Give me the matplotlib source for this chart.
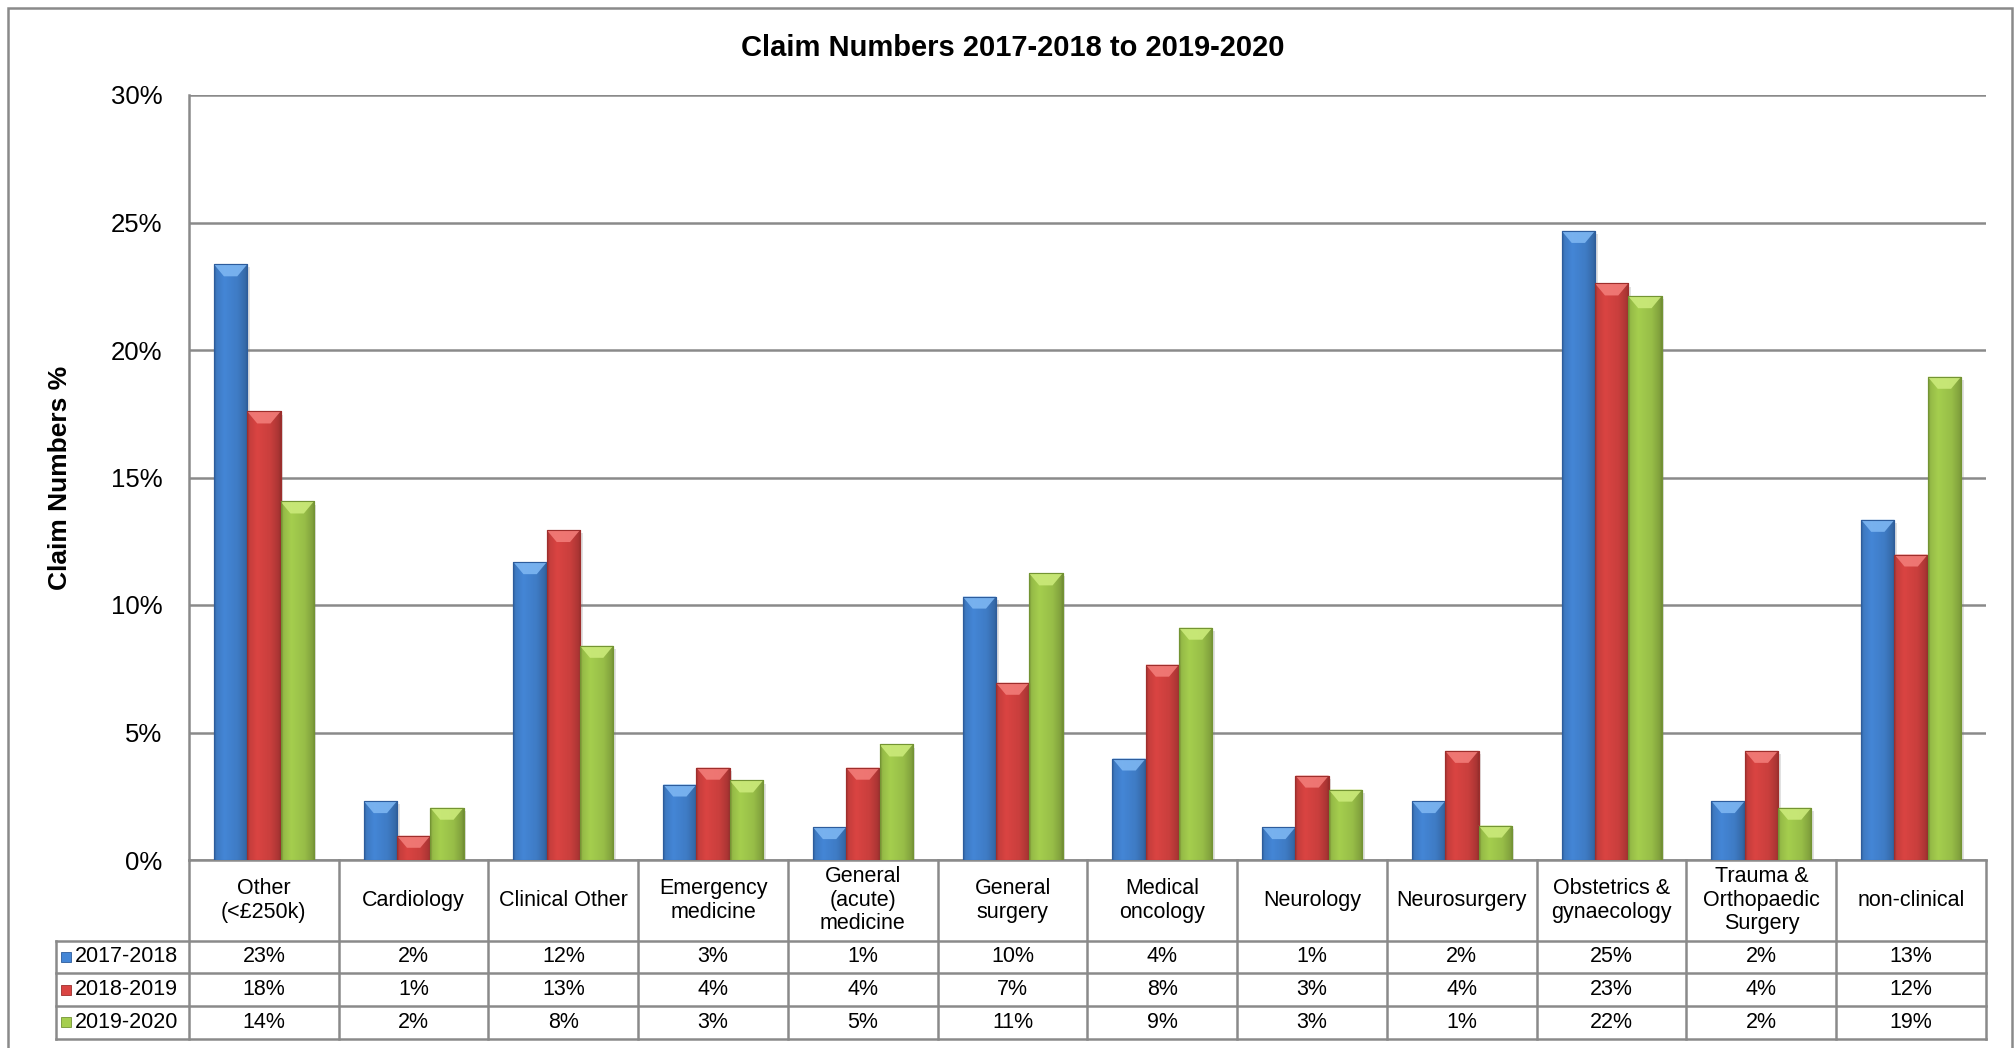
import matplotlib.pyplot as plt
import matplotlib.transforms as mtransforms
from matplotlib.colors import to_rgb
from matplotlib.patches import Polygon, Rectangle
import numpy as np

plt.rcParams['font.family'] = ['Liberation Sans', 'DejaVu Sans']

categories = ["Other\n(<£250k)", "Cardiology", "Clinical Other", "Emergency\nmedicine",
              "General\n(acute)\nmedicine", "General\nsurgery", "Medical\noncology", "Neurology",
              "Neurosurgery", "Obstetrics &\ngynaecology", "Trauma &\nOrthopaedic\nSurgery",
              "non-clinical"]
years = ["2017-2018", "2018-2019", "2019-2020"]
share_1718 = [23.36, 2.31, 11.68, 2.96, 1.29, 10.33, 3.98, 1.29, 2.31, 24.67, 2.31, 13.34]
share_1819 = [17.59, 0.95, 12.94, 3.62, 3.62, 6.95, 7.66, 3.31, 4.28, 22.61, 4.28, 11.98]
share_1920 = [14.06, 2.05, 8.40, 3.12, 4.53, 11.24, 9.11, 2.76, 1.35, 22.11, 2.05, 18.95]
series = [share_1718, share_1819, share_1920]

face = ['#4486D6', '#DA4442', '#A5CE4E']
edge = ['#2D5C9C', '#9E2E2C', '#739433']
bevel = ['#7DB6F2', '#F27C78', '#CBEA7A']

W, H = 2015, 1048
fig = plt.figure(figsize=(W / 100, H / 100), dpi=100)

# plot area in pixels
left, right, top, bottom = 189, 1986, 95, 860
ax = fig.add_axes([left / W, 1 - bottom / H, (right - left) / W, (bottom - top) / H])

n = len(categories)
x = np.arange(n)
w = 1 / 4.5  # gap width 150%
px_per_unit = (bottom - top) / 30.0


def shade(color, k=60):
    rgb = np.array(to_rgb(color))
    t = np.linspace(0, 1, k)
    prof = np.interp(t, [0, 0.06, 0.3, 0.7, 0.94, 1], [0.70, 0.90, 1.0, 0.92, 0.78, 0.68])
    return np.clip(rgb[None, :] * prof[:, None], 0, 1)[None, :, :]


for s, vals in enumerate(series):
    xs = x + (s - 1) * w
    bars = ax.bar(xs, vals, width=w, color=face[s], edgecolor=edge[s], lw=0.8, zorder=3)
    for b, v in zip(bars, vals):
        x0 = b.get_x()
        x1 = x0 + b.get_width()
        # soft shadow
        ax.add_patch(Rectangle((x0 + 0.018, 0), w, v - 0.12, color='#7a7a7a',
                               alpha=0.22, lw=0, zorder=2.5))
        im = ax.imshow(shade(face[s]), extent=[x0, x1, 0, v], aspect='auto',
                       interpolation='bicubic', zorder=3.1)
        im.set_clip_path(b)
        bh = min(12 / px_per_unit, v / 2)
        d = w * 0.3
        ax.add_patch(Polygon([(x0, v), (x1, v), (x1 - d, v - bh), (x0 + d, v - bh)],
                             closed=True, facecolor=bevel[s], edgecolor='none',
                             alpha=0.9, zorder=3.2))
        ax.add_patch(Rectangle((x0, 0), w, v, fill=False, edgecolor=edge[s],
                               lw=0.8, zorder=3.3))

ax.set_xlim(-0.5, n - 0.5)
ax.set_ylim(0, 30)
ax.set_yticks(np.arange(0, 31, 5))
ax.set_yticklabels([f"{t}%" for t in range(0, 31, 5)])
ax.set_xticks([])
ax.tick_params(axis='y', length=0, labelsize=18.5, pad=19)
ax.yaxis.grid(True, color='#8a8a8a', lw=1.8)
ax.set_axisbelow(True)
for sp in ['top', 'right']:
    ax.spines[sp].set_visible(False)
for sp in ['left', 'bottom']:
    ax.spines[sp].set_color('#8a8a8a')
    ax.spines[sp].set_linewidth(1.8)

# data table under the chart
trans = mtransforms.blended_transform_factory(ax.transData, ax.transAxes)
ph = bottom - top
pw = right - left


def ya(py):
    return (bottom - py) / ph


def xa(px):
    return (px - left) / pw


row_y = [940.7, 973.3, 1006.0, 1038.5]
grid_kw = dict(color='#8a8a8a', lw=1.8, clip_on=False)
for i in range(n + 1):
    ax.plot([i - 0.5, i - 0.5], [0, ya(row_y[-1])], transform=trans, **grid_kw)
for yy in row_y:
    ax.plot([xa(55.7), 1], [ya(yy), ya(yy)], transform=ax.transAxes, **grid_kw)
ax.plot([xa(55.7), xa(55.7)], [ya(row_y[0]), ya(row_y[-1])], transform=ax.transAxes, **grid_kw)

for i, c in enumerate(categories):
    ax.text(i, ya((bottom + row_y[0]) / 2), c, transform=trans, ha='center', va='center',
            fontsize=15.5, linespacing=1.15)

for s, vals in enumerate(series):
    ymid = ya((row_y[s] + row_y[s + 1]) / 2)
    for i, v in enumerate(vals):
        ax.text(i, ymid, f"{v:.0f}%", transform=trans, ha='center', va='center', fontsize=15.5)
    ax.add_patch(Rectangle((xa(61), ymid - 5 / ph), 10 / pw, 10 / ph, transform=ax.transAxes,
                           facecolor=face[s], edgecolor=edge[s], lw=0.6, clip_on=False))
    ax.text(xa(75), ymid, years[s], transform=ax.transAxes, ha='left', va='center', fontsize=15.5)

fig.text(1013 / W, 1 - 47.5 / H, "Claim Numbers 2017-2018 to 2019-2020",
         ha='center', va='center', fontsize=21, fontweight='bold')
fig.text(60 / W, 1 - 478 / H, "Claim Numbers %", rotation=90, ha='center', va='center',
         fontsize=19, fontweight='bold')

# chart border, runs off the bottom edge
fig.add_artist(Rectangle((8 / W, -4 / H), (2012 - 8) / W, (H - 4) / H,
                         transform=fig.transFigure, fill=False, edgecolor='#8a8a8a', lw=1.8))

fig.savefig('out.png', dpi=100)
